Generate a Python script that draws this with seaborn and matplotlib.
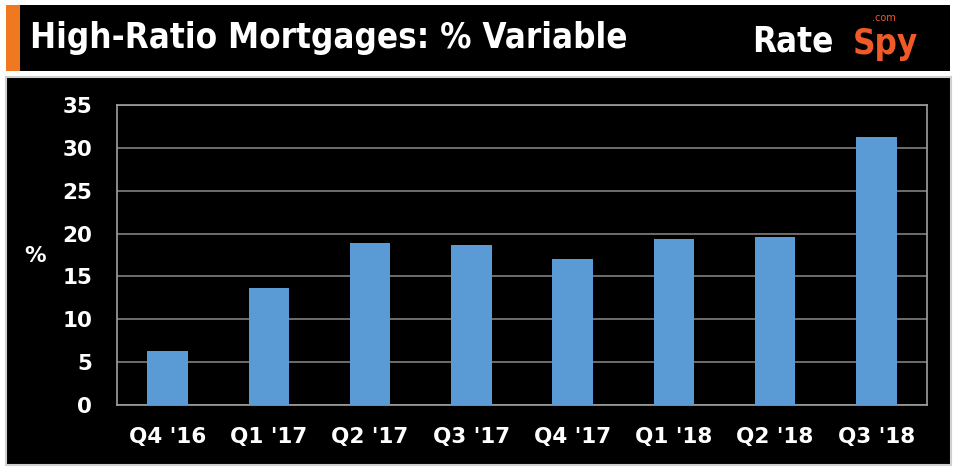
import matplotlib
matplotlib.use('Agg')
import seaborn as sns
from matplotlib import pyplot as plt
from matplotlib.patches import Rectangle

quarters = ["Q4 '16", "Q1 '17", "Q2 '17", "Q3 '17", "Q4 '17", "Q1 '18", "Q2 '18", "Q3 '18"]
pct_variable = [6.3, 13.7, 18.9, 18.7, 17.0, 19.4, 19.6, 31.3]
y_ticks = [0, 5, 10, 15, 20, 25, 30, 35]

sns.set_style('dark')
plt.rcParams['font.family'] = ['DejaVu Sans']

W, H = 962, 474
fig = plt.figure(figsize=(W / 100, H / 100), dpi=100, facecolor='white')


def box(x0, y0, x1, y1, z, **kw):
    # pixel coords from top-left
    fig.patches.append(Rectangle((x0 / W, 1 - y1 / H), (x1 - x0) / W, (y1 - y0) / H,
                                 transform=fig.transFigure, zorder=z, **kw))


# header band
box(6, 5, 950, 71, -10, facecolor='black', edgecolor='none')
box(6, 5, 20, 71, -9, facecolor='#F07820', edgecolor='none')
# chart panel
box(6, 77, 951, 465, -10, facecolor='black', edgecolor='#D0D0D0', linewidth=1.5)

fig.text(30 / W, 1 - 38 / H, 'High-Ratio Mortgages: % Variable', color='white',
         fontsize=25, fontweight='bold', fontstretch='condensed',
         va='center', ha='left')

# logo as text
fig.text(752 / W, 1 - 42 / H, 'Rate', color='white', fontsize=25, fontweight='bold',
         fontstretch='condensed', va='center', ha='left')
fig.text(853 / W, 1 - 44 / H, 'Spy', color='#F05A28', fontsize=25, fontweight='bold',
         fontstretch='condensed', va='center', ha='left')
fig.text(872 / W, 1 - 18 / H, '.com', color='#F05A28', fontsize=7,
         va='center', ha='left')

ax = fig.add_axes([117 / W, 1 - 405 / H, (927 - 117) / W, 300 / H])
ax.set_zorder(1)
ax.set_facecolor('black')
sns.barplot(x=quarters, y=pct_variable, color='#5B9BD5', saturation=1,
            width=0.4, linewidth=0, edgecolor='none', ax=ax, zorder=3)

ax.set_ylim(0, 35)
ax.set_yticks(y_ticks)
ax.set_xlim(-0.5, len(quarters) - 0.5)
ax.grid(axis='y', color='#808080', linewidth=1.2, zorder=0)
ax.grid(axis='x', visible=False)
ax.set_axisbelow(True)
for s in ax.spines.values():
    s.set_visible(True)
    s.set_color('#A0A0A0')
    s.set_linewidth(1.2)
ax.tick_params(axis='y', colors='white', labelsize=15.5, pad=18, length=0)
ax.tick_params(axis='x', colors='white', labelsize=15.5, pad=16, length=0)
for lbl in ax.get_xticklabels() + ax.get_yticklabels():
    lbl.set_fontweight('bold')
ax.set_xlabel('')
ax.set_ylabel('')
fig.text(35 / W, 1 - 256 / H, '%', color='white', fontsize=15.5, fontweight='bold',
         ha='center', va='center')

fig.savefig('out.png', dpi=100, facecolor='white')
